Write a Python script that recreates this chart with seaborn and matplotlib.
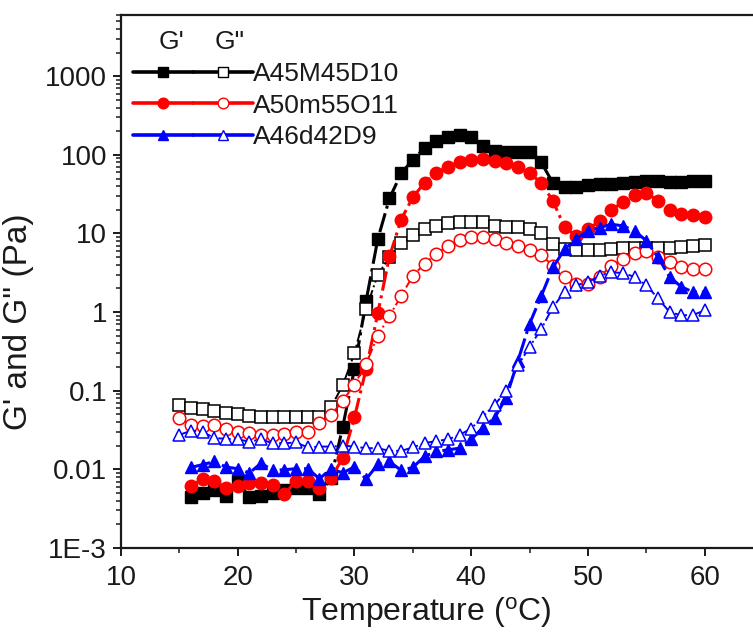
import matplotlib
matplotlib.use("Agg")
import numpy as np
import matplotlib.pyplot as plt
import seaborn as sns
from matplotlib.lines import Line2D
from matplotlib.legend_handler import HandlerTuple
from matplotlib.ticker import LogLocator, NullFormatter, MultipleLocator

# temperatures (degC); G' starts one degree later than G''
temp_gp = list(range(16, 61))
temp_gpp = list(range(15, 61))

# A45M45D10
a45_gp = [0.0044, 0.0050, 0.0055, 0.0046, 0.0072, 0.0044, 0.0046, 0.0050, 0.0054,
          0.0058, 0.0058, 0.0048, 0.0078, 0.035, 0.19, 1.4, 8.5, 28, 58, 87, 122,
          148, 170, 180, 170, 130, 112, 108, 108, 108, 80, 44, 39, 39, 41, 42, 43,
          44, 45, 46, 46, 45, 45, 46, 46]
a45_gpp = [0.065, 0.061, 0.058, 0.055, 0.052, 0.050, 0.048, 0.047, 0.046, 0.046,
           0.046, 0.046, 0.047, 0.062, 0.118, 0.30, 1.1, 3.0, 5.0, 7.5, 9.5, 11.5,
           12.5, 13.5, 14, 14, 14, 12.5, 12, 12, 11.5, 10, 7.3, 6.3, 6.1, 6.1, 6.1,
           6.3, 6.5, 6.6, 6.6, 6.6, 6.6, 6.8, 7.0, 7.1]

# A50m55O11
a50_gp = [0.0061, 0.0076, 0.0072, 0.0058, 0.0062, 0.0067, 0.0067, 0.0064, 0.0048,
          0.0072, 0.0072, 0.0058, 0.0078, 0.014, 0.046, 0.19, 0.97, 5.1, 15, 29,
          44, 59, 70, 80, 87, 89, 84, 78, 71, 59, 44, 26, 12, 9.3, 11.3, 14.4, 20,
          25, 31, 33, 26, 20, 17.5, 17, 16.4]
a50_gpp = [0.045, 0.037, 0.036, 0.037, 0.033, 0.030, 0.029, 0.0275, 0.0275, 0.028,
           0.030, 0.030, 0.039, 0.049, 0.075, 0.12, 0.22, 0.5, 0.9, 1.6, 2.9, 4.1,
           5.5, 7.0, 8.3, 8.9, 9.1, 8.5, 7.6, 6.9, 6.2, 5.3, 3.9, 2.8, 2.3, 2.3, 2.8,
           3.9, 4.7, 5.7, 6.0, 5.0, 4.3, 3.7, 3.5, 3.5]

# A46d42D9
a46_gp = [0.0106, 0.0115, 0.0126, 0.0107, 0.0102, 0.0090, 0.0120, 0.0097, 0.0099,
          0.0102, 0.0102, 0.0076, 0.0102, 0.0090, 0.0108, 0.0075, 0.0116, 0.0126,
          0.0097, 0.0106, 0.0146, 0.0169, 0.0177, 0.0186, 0.024, 0.034, 0.045,
          0.082, 0.24, 0.71, 1.6, 3.7, 6.3, 8.5, 10.8, 11.9, 13.1, 12.5, 10.8, 8.1,
          5.0, 2.8, 2.1, 1.8, 1.8]
a46_gpp = [0.0275, 0.031, 0.030, 0.025, 0.0245, 0.024, 0.0226, 0.024, 0.0215,
           0.0215, 0.022, 0.019, 0.0195, 0.0195, 0.020, 0.0195, 0.0186, 0.0186,
           0.0172, 0.0172, 0.019, 0.0215, 0.023, 0.024, 0.0275, 0.033, 0.047, 0.066,
           0.10, 0.21, 0.36, 0.61, 1.16, 1.8, 2.2, 2.4, 2.9, 3.2, 3.15, 2.8, 2.2,
           1.5, 1.0, 0.91, 0.92, 1.05]

sample_names = ["A45M45D10", "A50m55O11", "A46d42D9"]
y_ticks = [1e-3, 1e-2, 0.1, 1, 10, 100, 1000]
y_ticklabels = ["1E-3", "0.01", "0.1", "1", "10", "100", "1000"]


def main():
    sns.set_style("ticks")
    plt.rcParams['font.family'] = ["Liberation Sans", "DejaVu Sans"]
    plt.rcParams['mathtext.fontset'] = "custom"
    plt.rcParams['mathtext.rm'] = "Liberation Sans"
    almost_black = '#1a1a1a'
    plt.rcParams['text.color'] = almost_black
    plt.rcParams['axes.edgecolor'] = almost_black
    plt.rcParams['axes.labelcolor'] = almost_black
    plt.rcParams['xtick.color'] = almost_black
    plt.rcParams['ytick.color'] = almost_black

    fig = plt.figure(figsize=(7.53, 6.37), dpi=100)
    ax = fig.add_axes([0.1607, 0.1397, 0.8526, 0.8367])

    series = [
        (a45_gp, a45_gpp, "black", "s", 8.0),
        (a50_gp, a50_gpp, "red", "o", 9.0),
        (a46_gp, a46_gpp, "blue", "^", 9.0),
    ]
    handles = []
    for gp, gpp, col, mk, ms in series:
        sns.lineplot(x=temp_gp, y=gp, ax=ax, color=col, marker=mk,
                     markersize=ms, mfc=col, mec=col, mew=1.0,
                     linestyle="-.", linewidth=2.2, errorbar=None)
        sns.lineplot(x=temp_gpp, y=gpp, ax=ax, color=col, marker=mk,
                     markersize=ms, mfc="white", mec=col, mew=1.1,
                     linestyle="-.", linewidth=1.4, errorbar=None)
        h1 = Line2D([], [], color=col, marker=mk, markersize=ms * 0.85,
                    mfc=col, mec=col, lw=2.6)
        h2 = Line2D([], [], color=col, marker=mk, markersize=ms * 0.85,
                    mfc="white", mec=col, mew=1.0, lw=2.6)
        handles.append((h1, h2))

    ax.set_yscale("log")
    ax.set_xlim(10, 65)
    ax.set_ylim(1e-3, 6000)
    ax.set_yticks(y_ticks)
    ax.set_yticklabels(y_ticklabels)
    ax.yaxis.set_minor_locator(LogLocator(base=10, subs=np.arange(2, 10),
                                          numticks=30))
    ax.yaxis.set_minor_formatter(NullFormatter())
    ax.xaxis.set_major_locator(MultipleLocator(10))
    ax.xaxis.set_minor_locator(MultipleLocator(5))

    ax.tick_params(which="major", direction="out", length=6, width=1.4,
                   labelsize=20, top=False, right=False, pad=4)
    ax.tick_params(axis="x", which="major", pad=6)
    ax.tick_params(which="minor", direction="out", length=3.5, width=1.1,
                   top=False, right=False)
    for sp in ax.spines.values():
        sp.set_linewidth(1.6)

    ax.set_xlabel(r"Temperature ($\mathregular{^{o}}$C)", fontsize=23)
    ax.set_ylabel("G' and G\" (Pa)", fontsize=24)
    ax.xaxis.set_label_coords(0.475, -0.088)
    ax.yaxis.set_label_coords(-0.135, 0.425)

    ax.legend(handles, sample_names,
              handler_map={tuple: HandlerTuple(ndivide=None, pad=0)},
              loc="upper left", bbox_to_anchor=(133 / 753, 1 - 62 / 637),
              bbox_transform=fig.transFigure, frameon=False,
              fontsize=19, handlelength=4.55, handletextpad=0.0,
              labelspacing=0.29, borderpad=0, borderaxespad=0)

    fig.text(172 / 753, 1 - 42 / 637, "G'", ha="center", va="center",
             fontsize=19)
    fig.text(230 / 753, 1 - 42 / 637, "G\"", ha="center", va="center",
             fontsize=19)

    fig.savefig("out.png", dpi=100)


if __name__ == "__main__":
    main()
